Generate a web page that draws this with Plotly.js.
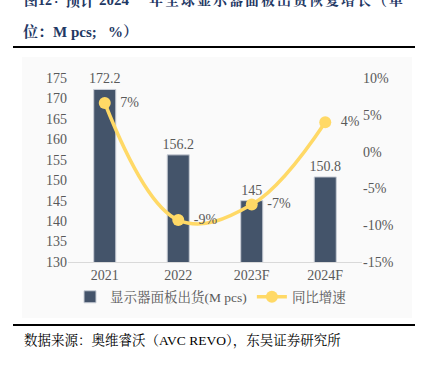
<!DOCTYPE html>
<html>
<head>
<meta charset="utf-8">
<script src="https://cdn.plot.ly/plotly-3.0.1.min.js"></script>
<style>html,body{margin:0;padding:0;background:#fff}#chart{width:425px;height:370px}</style>
</head>
<body>
<div id="chart"></div>
<script>
const categories = ["2021", "2022", "2023F", "2024F"];
const shipments = [172.2, 156.2, 145, 150.8];
const shipmentLabels = ["172.2", "156.2", "145", "150.8"];
const growth = [6.6, -9.3, -7.2, 4.0];
const growthLabels = ["7%", "-9%", "-7%", "4%"];
const leftTicks = [130, 135, 140, 145, 150, 155, 160, 165, 170, 175];
const rightTickVals = [-15, -10, -5, 0, 5, 10];
const rightTickText = ["-15%", "-10%", "-5%", "0%", "5%", "10%"];
const titleHead = ["图12", "：", "预计", "2024"];
const titleRest = "年全球显示器面板出货恢复增长（单";
const titleLine2 = "位：M pcs;  %）";
const sourceText = "数据来源：奥维睿沃（AVC REVO），东吴证券研究所";

const serif = "Liberation Serif, Times New Roman, Noto Serif CJK SC, Noto Sans CJK SC, serif";
const gray = "#595959";
const navy = "#1F3864";

// pixel -> paper helpers (plot area: l=68, w=294, t=78, h=184)
const px = x => (x - 68) / 294;
const py = y => 1 - (y - 78) / 184;

const traces = [
  {
    type: "bar", name: "显示器面板出货(M pcs)", x: categories, y: shipments,
    text: shipmentLabels, textposition: "outside", cliponaxis: false, constraintext: "none",
    textfont: {family: serif, size: 14, color: gray},
    marker: {color: "#44546A", line: {color: "#c9ced6", width: 1}},
    hoverinfo: "skip"
  },
  {
    type: "scatter", mode: "lines+markers+text", name: "同比增速", x: categories, y: growth,
    yaxis: "y2", text: growthLabels, texttemplate: "\u00a0\u00a0%{text}",
    textposition: "middle right", cliponaxis: false,
    textfont: {family: serif, size: 14, color: gray},
    line: {color: "#FFD966", width: 3.5, shape: "spline", smoothing: 1.1},
    marker: {color: "#FFD966", size: 12},
    hoverinfo: "skip"
  }
];

const annotations = [];
const headLefts = [22, 51, 63, 97];
const headSizes = [14, 12, 15, 15];
titleHead.forEach((t, i) => annotations.push({
  xref: "paper", yref: "paper", x: px(headLefts[i]), y: py(0), xanchor: "left", yanchor: "middle",
  showarrow: false, text: "<b>" + t + "</b>", font: {family: serif, size: headSizes[i], color: navy}
}));
Array.from(titleRest).forEach((ch, i) => annotations.push({
  xref: "paper", yref: "paper", x: px(147 + 16 * i), y: py(0), xanchor: "left", yanchor: "middle",
  showarrow: false, text: "<b>" + ch + "</b>", font: {family: serif, size: 14, color: navy}
}));
annotations.push({
  xref: "paper", yref: "paper", x: px(21), y: py(32), xanchor: "left", yanchor: "middle",
  showarrow: false, text: "<b>" + titleLine2.replace(/  /g, "\u00a0\u00a0\u00a0") + "</b>",
  font: {family: serif, size: 15, color: navy}
});
annotations.push({
  xref: "paper", yref: "paper", x: px(22), y: py(340), xanchor: "left", yanchor: "middle",
  showarrow: false, text: sourceText, font: {family: serif, size: 13.5, color: "#000000"}
});

const layout = {
  width: 425, height: 370,
  margin: {l: 68, r: 63, t: 78, b: 108},
  paper_bgcolor: "#ffffff", plot_bgcolor: "rgba(0,0,0,0)",
  showlegend: true,
  bargap: 0.7,
  font: {family: serif, size: 13, color: gray},
  xaxis: {
    type: "category", showgrid: false, zeroline: false,
    showline: true, linecolor: "#d9d9d9", linewidth: 1, ticks: "",
    tickfont: {family: serif, size: 14, color: gray}
  },
  yaxis: {
    range: [130, 175], tickvals: leftTicks, showgrid: false, zeroline: false,
    showline: false, ticks: "", tickfont: {family: serif, size: 14, color: gray}
  },
  yaxis2: {
    overlaying: "y", side: "right", range: [-15, 10],
    tickvals: rightTickVals, ticktext: rightTickText,
    showgrid: false, zeroline: false, showline: false, ticks: "",
    tickfont: {family: serif, size: 14, color: gray}
  },
  legend: {
    orientation: "h", x: px(70), xanchor: "left", y: py(297), yanchor: "middle",
    font: {family: serif, size: 13.5, color: gray}, bgcolor: "rgba(0,0,0,0)",
    itemwidth: 30
  },
  shapes: [
    {type: "rect", xref: "paper", yref: "paper", x0: px(22), x1: px(412), y0: py(318), y1: py(57),
     fillcolor: "#fafafa", line: {width: 0}, layer: "below"},
    {type: "line", xref: "paper", yref: "paper", x0: px(13), x1: px(415), y0: py(47), y1: py(47),
     line: {color: "#000000", width: 2}},
    {type: "line", xref: "paper", yref: "paper", x0: px(13), x1: px(415), y0: py(325), y1: py(325),
     line: {color: "#000000", width: 2}}
  ],
  annotations: annotations
};

Plotly.newPlot("chart", traces, layout, {displayModeBar: false, staticPlot: true});
</script>
</body>
</html>
